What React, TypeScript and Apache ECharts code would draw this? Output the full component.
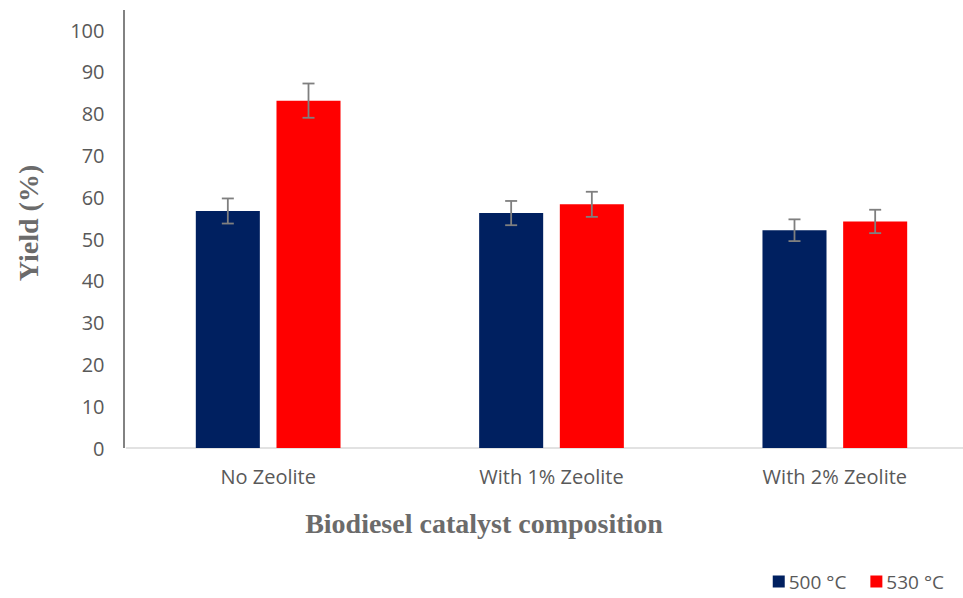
import React, { useEffect, useRef } from "react";
import * as echarts from "echarts";

const categories = ["No Zeolite", "With 1% Zeolite", "With 2% Zeolite"];
const seriesNames = ["500 °C", "530 °C"];
const yield500 = [56.7, 56.2, 52.1];
const yield530 = [83.1, 58.3, 54.2];
const err500 = [3.0, 2.9, 2.6];
const err530 = [4.1, 3.0, 2.8];
const yTicks = [0, 10, 20, 30, 40, 50, 60, 70, 80, 90, 100];

const BAR_RATIO = 0.226;
const GAP_RATIO = 0.26;

function errorSeries(values: number[], errs: number[], idx: number) {
  return {
    type: "custom",
    name: seriesNames[idx] + " err",
    z: 10,
    silent: true,
    data: values.map((v, i) => [i, v - errs[i], v + errs[i]]),
    renderItem: (params: any, api: any) => {
      const band = api.size([1, 0])[0];
      const bw = band * BAR_RATIO;
      const off = ((bw + bw * GAP_RATIO) / 2) * (idx === 0 ? -1 : 1);
      const lo = api.coord([api.value(0), api.value(1)]);
      const hi = api.coord([api.value(0), api.value(2)]);
      const x = lo[0] + off;
      const cap = 6;
      const style = { stroke: "#7f7f7f", lineWidth: 1.8 };
      return {
        type: "group",
        children: [
          { type: "line", shape: { x1: x, y1: lo[1], x2: x, y2: hi[1] }, style },
          { type: "line", shape: { x1: x - cap, y1: hi[1], x2: x + cap, y2: hi[1] }, style },
          { type: "line", shape: { x1: x - cap, y1: lo[1], x2: x + cap, y2: lo[1] }, style },
        ],
      };
    },
  };
}

export default function App() {
  const ref = useRef<HTMLDivElement>(null);
  useEffect(() => {
    if (!ref.current) return;
    const chart = echarts.init(ref.current, null, { renderer: "svg" });
    const font = "'Open Sans', sans-serif";
    const serif = "bold 28px 'Liberation Serif', 'Times New Roman', serif";
    chart.setOption({
      animation: false,
      backgroundColor: "#ffffff",
      grid: {
        left: 126.5,
        top: 30,
        width: 850,
        height: 418,
        containLabel: false,
        outerBoundsMode: "none",
      },
      legend: {
        data: seriesNames,
        right: 14,
        bottom: 2,
        itemWidth: 12,
        itemHeight: 12,
        itemGap: 24,
        icon: "rect",
        textStyle: { color: "#595959", fontSize: 19, fontFamily: font, padding: [0, 0, 0, -1] },
      },
      xAxis: {
        type: "category",
        data: categories,
        axisLine: { lineStyle: { color: "#d9d9d9", width: 1.5 } },
        axisTick: { show: false },
        axisLabel: { color: "#595959", fontSize: 20, fontFamily: font, margin: 18 },
      },
      yAxis: {
        type: "value",
        min: yTicks[0],
        max: yTicks[yTicks.length - 1],
        interval: 10,
        axisLine: { show: false },
        axisTick: { show: false },
        splitLine: { show: false },
        axisLabel: { color: "#595959", fontSize: 20, fontFamily: font, margin: 22 },
      },
      graphic: [
        {
          type: "line",
          shape: { x1: 124, y1: 10, x2: 124, y2: 448 },
          style: { stroke: "#595959", lineWidth: 1.5 },
        },
        {
          type: "text",
          x: 28,
          y: 223,
          rotation: Math.PI / 2,
          style: {
            text: "Yield (%)",
            fill: "#6b6b6b",
            font: serif,
            align: "center",
            verticalAlign: "middle",
          },
        },
        {
          type: "text",
          x: 484,
          y: 523,
          style: {
            text: "Biodiesel catalyst composition",
            fill: "#6b6b6b",
            font: serif,
            align: "center",
            verticalAlign: "middle",
          },
        },
      ],
      series: [
        {
          type: "bar",
          name: seriesNames[0],
          data: yield500,
          barWidth: (BAR_RATIO * 100).toFixed(1) + "%",
          barGap: GAP_RATIO * 100 + "%",
          itemStyle: { color: "#002060" },
        },
        {
          type: "bar",
          name: seriesNames[1],
          data: yield530,
          barWidth: (BAR_RATIO * 100).toFixed(1) + "%",
          barGap: GAP_RATIO * 100 + "%",
          itemStyle: { color: "#ff0000" },
        },
        errorSeries(yield500, err500, 0),
        errorSeries(yield530, err530, 1),
      ],
    });
    return () => chart.dispose();
  }, []);
  return (
    <div
      ref={ref}
      style={{ position: "absolute", left: 0, top: 0, width: 963, height: 598 }}
    />
  );
}
